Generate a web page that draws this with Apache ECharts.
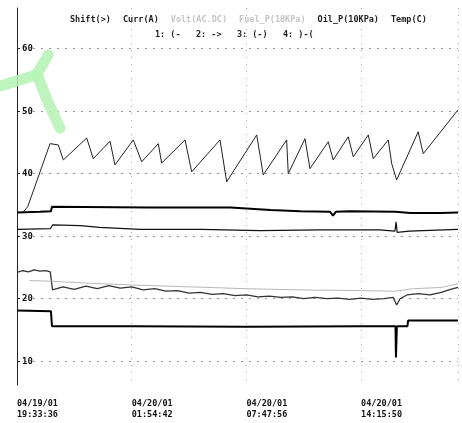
<!DOCTYPE html>
<html>
<head>
<meta charset="utf-8">
<script src="https://cdn.jsdelivr.net/npm/echarts@6/dist/echarts.min.js"></script>
<style>
  html, body { margin: 0; padding: 0; background: #fff; }
  #chart-container { width: 462px; height: 423px; }
</style>
</head>
<body>
<div id="chart-container"></div>
<script>
var dom = document.getElementById("chart-container");
var myChart = echarts.init(dom, null, { renderer: "canvas" });

// x = sample position (100 per labelled tick), y = value
var tickLabels = ["04/19/01\n19:33:36", "04/20/01\n01:54:42", "04/20/01\n07:47:56", "04/20/01\n14:15:50"];
var tickPos = [0, 100, 200, 300];
var yTicks = [10, 20, 30, 40, 50, 60];
var names = ["Shift(>)", "Curr(A)", "Volt(AC.DC)", "Fuel_P(10KPa)", "Oil_P(10KPa)", "Temp(C)"];

var shiftX = [0, 29.6, 30.5, 100, 200, 300, 330, 330.4, 330.8, 331.2, 340.4, 341, 384.5];
var shiftY = [18.1, 18.0, 15.6, 15.6, 15.5, 15.6, 15.6, 10.6, 10.6, 15.6, 15.6, 16.5, 16.5];

var currX = [0, 5, 10, 15, 20, 25, 29, 31, 40, 50, 60, 70, 80, 90, 100, 110, 120, 130, 140, 150, 160, 170, 180, 190, 200, 210, 220, 230, 240, 250, 260, 270, 280, 290, 300, 310, 320, 328, 331, 334, 340, 350, 360, 370, 378, 384.5];
var currY = [24.2, 24.5, 24.3, 24.6, 24.4, 24.5, 24.3, 21.4, 21.9, 21.5, 22.0, 21.6, 22.1, 21.7, 21.9, 21.4, 21.6, 21.2, 21.3, 20.9, 21.0, 20.7, 20.8, 20.5, 20.6, 20.3, 20.4, 20.2, 20.3, 20.0, 20.2, 20.0, 20.1, 19.9, 20.1, 19.9, 20.0, 20.2, 19.0, 20.0, 20.6, 20.8, 20.6, 21.0, 21.5, 21.8];

var voltX = [11, 30, 60, 100, 150, 200, 250, 300, 330, 345, 370, 384.5];
var voltY = [22.9, 22.8, 22.5, 22.2, 21.9, 21.6, 21.4, 21.3, 21.2, 21.6, 21.8, 22.4];

var fuelX = [0, 29, 31, 55, 72, 107, 160, 212, 264, 316, 329.5, 330.5, 331.5, 342, 384.5];
var fuelY = [31.1, 31.2, 31.8, 31.7, 31.4, 31.1, 31.1, 30.9, 31.0, 31.0, 30.8, 32.3, 30.6, 30.8, 31.1];

var oilX = [5, 9.3, 28.8, 36.0, 40.4, 60.8, 66.5, 81.1, 85.4, 101.4, 108.7, 123.2, 126.1, 146.5, 152.3, 177.0, 182.8, 209.0, 214.7, 235.1, 236.5, 251.1, 255.4, 271.4, 275.7, 288.8, 293.2, 306.3, 310.6, 323.7, 326.7, 331.0, 349.8, 354.2, 384.5];
var oilY = [33.8, 34.7, 44.8, 44.6, 42.2, 45.7, 42.4, 45.2, 41.4, 45.4, 41.9, 44.8, 41.7, 45.4, 40.3, 45.4, 38.7, 46.2, 39.8, 45.4, 40.0, 45.6, 40.8, 45.1, 42.2, 45.9, 42.7, 46.2, 42.4, 45.4, 41.6, 39.0, 46.7, 43.2, 50.2];

var tempX = [0, 20, 29.6, 30.5, 116, 186, 221, 247, 273, 275.5, 278, 290, 330, 343, 369, 384.5];
var tempY = [33.8, 33.9, 34.0, 34.7, 34.6, 34.6, 34.2, 34.0, 33.9, 33.3, 33.9, 34.0, 33.9, 33.7, 33.7, 33.8];

function zip(xs, ys) {
  return xs.map(function (x, i) { return [x, ys[i]]; });
}

var font = "DejaVu Sans Mono";

function line(name, xs, ys, color, width) {
  return {
    name: name,
    type: "line",
    data: zip(xs, ys),
    showSymbol: false,
    lineStyle: { color: color, width: width },
    itemStyle: { color: color },
  };
}

var option = {
  animation: false,
  backgroundColor: "#fff",
  title: {
    text: "1: (-   2: ->   3: (-)   4: )-(",
    left: 150,
    top: 25,
    textStyle: { fontFamily: font, fontSize: 8.5, fontWeight: "bold", color: "#222" },
  },
  legend: {
    top: 10,
    left: 60,
    icon: "rect",
    itemWidth: 0,
    itemHeight: 0,
    itemGap: 7,
    textStyle: { fontFamily: font, fontSize: 8.5, fontWeight: "bold", color: "#222" },
    data: [
      { name: names[0] },
      { name: names[1] },
      { name: names[2], textStyle: { color: "#c4c4c4" } },
      { name: names[3], textStyle: { color: "#c4c4c4" } },
      { name: names[4] },
      { name: names[5] },
    ],
  },
  grid: { left: 17, right: 4, top: 8, bottom: 38 },
  xAxis: {
    type: "value",
    min: 0,
    max: 384.5,
    axisLine: { show: false },
    axisTick: { show: false, customValues: [0, 100, 200, 300, 384.5] },
    splitLine: { show: true, lineStyle: { color: "#aaa", type: [1, 6], width: 1 } },
    axisLabel: {
      customValues: tickPos,
      align: "left",
      margin: 13,
      lineHeight: 11,
      fontFamily: font,
      fontSize: 8.5,
      fontWeight: "bold",
      color: "#111",
      formatter: function (v) {
        return tickLabels[tickPos.indexOf(v)] || "";
      },
    },
  },
  yAxis: {
    type: "value",
    min: 6.2,
    max: 66.5,
    axisLine: { show: true, lineStyle: { color: "#222", width: 1 } },
    axisTick: { show: true, inside: true, length: 3, customValues: yTicks, lineStyle: { color: "#222" } },
    splitLine: { show: true, lineStyle: { color: "#999", type: [2, 6], width: 1 } },
    axisLabel: {
      customValues: yTicks,
      inside: true,
      margin: 5,
      fontFamily: font,
      fontSize: 9,
      fontWeight: "bold",
      color: "#111",
    },
  },
  graphic: [
    {
      type: "polyline",
      silent: true,
      z: 100,
      shape: { points: [[0, 86], [36, 75]] },
      style: { stroke: "#b4f2b4", lineWidth: 11, lineCap: "round", fill: null, opacity: 0.85 },
    },
    {
      type: "polyline",
      silent: true,
      z: 100,
      shape: { points: [[48, 55], [37, 74], [47, 100], [60, 128]] },
      style: { stroke: "#b4f2b4", lineWidth: 11, lineCap: "round", lineJoin: "round", fill: null, opacity: 0.85 },
    },
  ],
  series: [
    line(names[0], shiftX, shiftY, "#000", 2),
    line(names[1], currX, currY, "#333", 1.3),
    line(names[2], voltX, voltY, "#b8b8b8", 1),
    line(names[3], fuelX, fuelY, "#111", 1.2),
    line(names[4], oilX, oilY, "#222", 1),
    line(names[5], tempX, tempY, "#000", 2),
  ],
};

myChart.setOption(option);
window.addEventListener("resize", myChart.resize);
</script>
</body>
</html>
